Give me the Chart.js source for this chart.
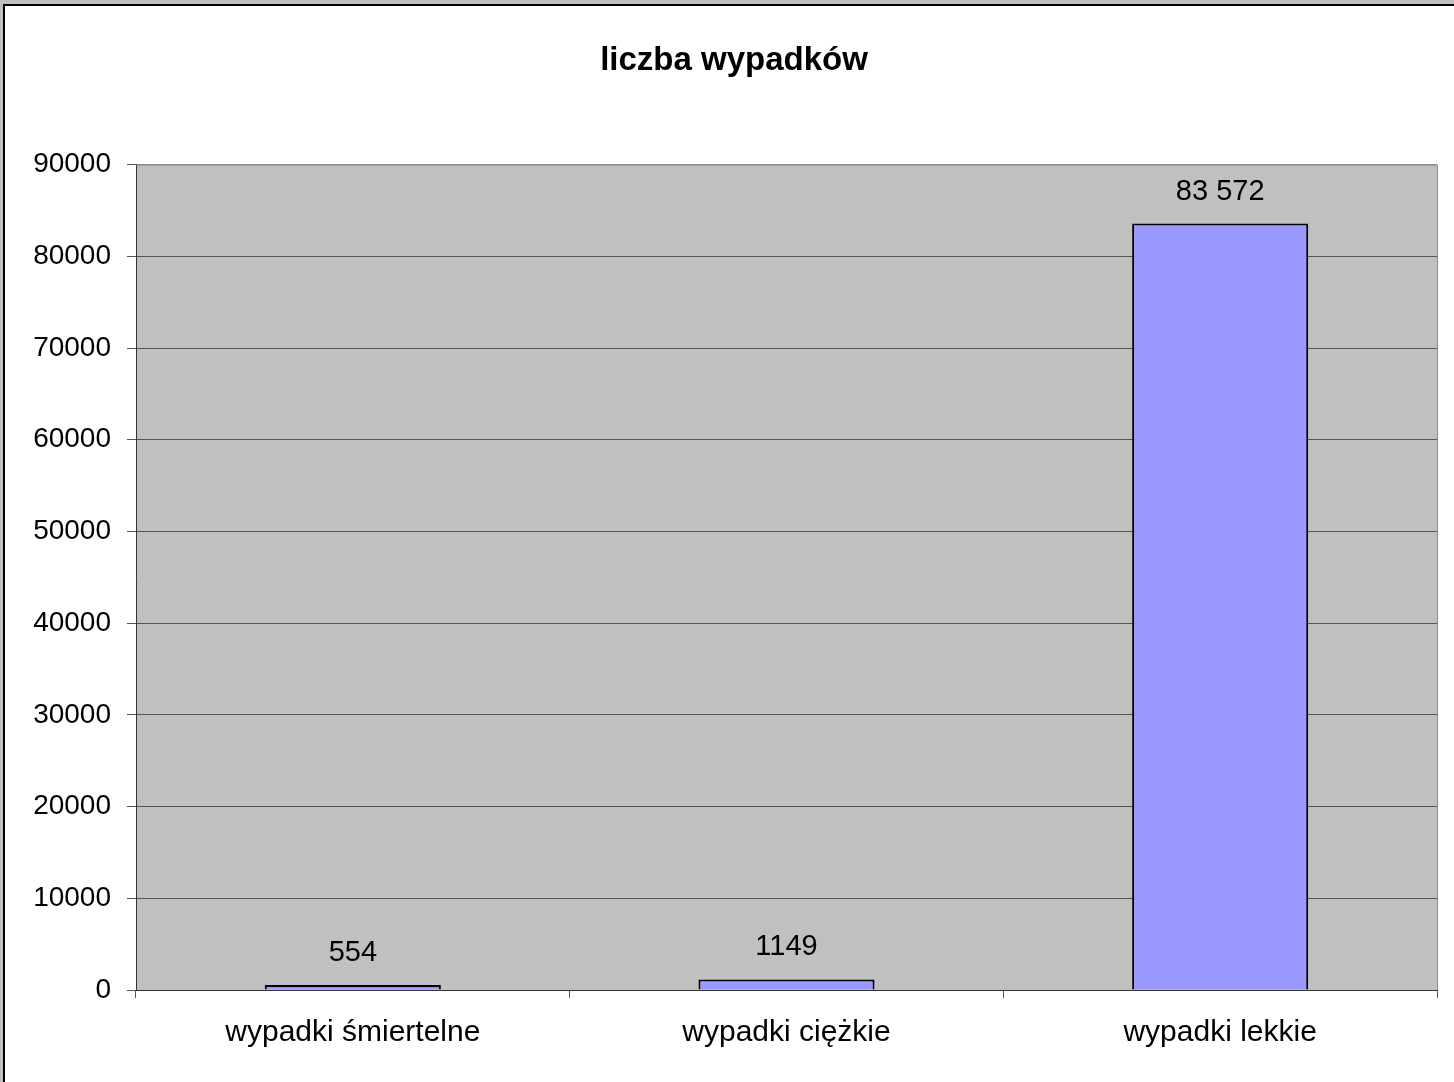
<!DOCTYPE html>
<html lang="pl">
<head>
<meta charset="utf-8">
<title>liczba wypadków</title>
<script src="https://cdn.jsdelivr.net/npm/chart.js@4.4.1/dist/chart.umd.min.js"></script>
<style>
  html, body { margin: 0; padding: 0; background: #c0c0c0; overflow: hidden; }
  #chart { display: block; }
</style>
</head>
<body>
<canvas id="chart" width="1454" height="1082"></canvas>
<script>
// dane
const categories = ["wypadki śmiertelne", "wypadki ciężkie", "wypadki lekkie"];
const values = [554, 1149, 83572];
const valueLabels = ["554", "1149", "83 572"];
const yTicks = [0, 10000, 20000, 30000, 40000, 50000, 60000, 70000, 80000, 90000];

const FONT = "'Liberation Sans', Arial, sans-serif";

// tlo, ramka i szare pole wykresu
const backgroundPlugin = {
  id: "background",
  beforeDraw(chart) {
    const ctx = chart.ctx;
    const area = chart.chartArea;
    ctx.save();
    ctx.fillStyle = "#c0c0c0";
    ctx.fillRect(0, 0, chart.width, chart.height);
    ctx.fillStyle = "#000000";
    ctx.fillRect(3, 4, chart.width, chart.height);
    ctx.fillStyle = "#ffffff";
    ctx.fillRect(5, 6, chart.width, chart.height);
    ctx.fillStyle = "#c0c0c0";
    ctx.fillRect(area.left, area.top, area.right - area.left, area.bottom - area.top);
    ctx.restore();
  },
  afterDraw(chart) {
    const ctx = chart.ctx;
    const area = chart.chartArea;
    ctx.save();
    ctx.strokeStyle = "#8a8a8a";
    ctx.lineWidth = 1;
    ctx.beginPath();
    ctx.moveTo(area.left, area.top + 0.5);
    ctx.lineTo(area.right + 0.5, area.top + 0.5);
    ctx.lineTo(area.right + 0.5, area.bottom);
    ctx.stroke();
    ctx.restore();
  }
};

// etykiety wartosci nad slupkami
const valueLabelPlugin = {
  id: "valueLabels",
  afterDatasetsDraw(chart) {
    const ctx = chart.ctx;
    const meta = chart.getDatasetMeta(0);
    ctx.save();
    ctx.font = "29px " + FONT;
    ctx.fillStyle = "#000000";
    ctx.textAlign = "center";
    ctx.textBaseline = "alphabetic";
    meta.data.forEach((bar, i) => {
      ctx.fillText(valueLabels[i], bar.x, bar.y - 24);
    });
    ctx.restore();
  }
};

const ctx = document.getElementById("chart").getContext("2d");

new Chart(ctx, {
  type: "bar",
  data: {
    labels: categories,
    datasets: [
      {
        label: "liczba wypadków",
        data: values,
        backgroundColor: "#9999ff",
        borderColor: "#000000",
        borderWidth: 2,
        categoryPercentage: 1,
        barPercentage: 0.406
      }
    ]
  },
  options: {
    responsive: false,
    animation: false,
    devicePixelRatio: 1,
    layout: {
      padding: { left: 31, top: 0, right: 17, bottom: 0 }
    },
    plugins: {
      legend: { display: false },
      tooltip: { enabled: false },
      title: {
        display: true,
        text: "liczba wypadków",
        color: "#000000",
        font: { family: FONT, size: 33, weight: "bold" },
        padding: { top: 41, bottom: 84 }
      }
    },
    scales: {
      x: {
        offset: true,
        afterFit(scale) {
          scale.height = 92;
        },
        grid: {
          offset: true,
          drawOnChartArea: false,
          drawTicks: true,
          tickLength: 8,
          tickColor: "#555555"
        },
        border: { color: "#333333", width: 1 },
        ticks: {
          color: "#000000",
          font: { family: FONT, size: 30 },
          padding: 17,
          maxRotation: 0
        }
      },
      y: {
        min: 0,
        max: 90000,
        afterFit(scale) {
          scale.width = 105;
        },
        afterBuildTicks(scale) {
          scale.ticks = yTicks.map(v => ({ value: v }));
        },
        grid: {
          color: (c) => (c.tick && c.tick.value === 90000 ? "#8a8a8a" : "#555555"),
          tickColor: "#555555",
          tickLength: 9
        },
        border: { color: "#333333", width: 1 },
        ticks: {
          color: "#000000",
          font: { family: FONT, size: 28 },
          padding: 16,
          callback: (v) => String(v)
        }
      }
    }
  },
  plugins: [backgroundPlugin, valueLabelPlugin]
});
</script>
</body>
</html>
